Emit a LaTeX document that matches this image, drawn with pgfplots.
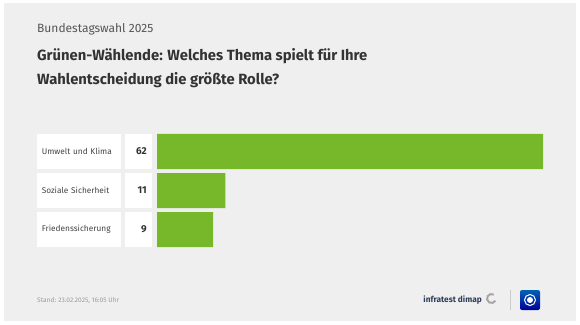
\documentclass[border=0pt]{standalone}
\usepackage{fontspec}
\setmainfont{Fira Sans}
\usepackage{pgfplots}
\pgfplotsset{compat=1.18}
\definecolor{bgc}{HTML}{EFEFEF}
\definecolor{barc}{HTML}{76B82A}
\definecolor{titc}{HTML}{333333}
\definecolor{subc}{HTML}{555555}
\definecolor{lblc}{HTML}{444444}
\definecolor{footc}{HTML}{9A9A9A}
\definecolor{infc}{HTML}{2E3F5A}
\begin{document}
\begin{tikzpicture}[x=1pt,y=1pt]
\fill[white] (0,0) rectangle (580,324);
\fill[bgc] (4,3) rectangle (576,321);
\node[anchor=base west, inner sep=0, font=\fontsize{12}{14}\selectfont, text=subc] at (37,291) {Bundestagswahl 2025};
\node[anchor=base west, inner sep=0, font=\fontsize{14.8}{18}\selectfont\bfseries, text=titc] at (37,263) {Grünen-Wählende: Welches Thema spielt für Ihre};
\node[anchor=base west, inner sep=0, font=\fontsize{14.8}{18}\selectfont\bfseries, text=titc] at (37,239) {Wahlentscheidung die größte Rolle?};
\begin{axis}[
  at={(157pt,75pt)}, anchor=south west,
  scale only axis, width=386pt, height=117pt,
  xmin=0, xmax=62, ymin=-0.5, ymax=2.5, y dir=reverse,
  axis line style={draw=none}, major tick style={draw=none},
  xtick=\empty, ytick={0,1,2},
  yticklabels={Umwelt und Klima, Soziale Sicherheit, Friedenssicherung},
  yticklabel style={anchor=east, xshift=-36pt, fill=white, inner sep=5pt,
    text width=74pt, align=left, minimum height=35pt, text=lblc,
    font=\fontsize{8.3}{10}\selectfont},
  clip=false,
]
\addplot[xbar, fill=barc, draw=none, bar width=35pt] coordinates {(62,0) (11,1) (9,2)};
\addplot[only marks, mark=none, nodes near coords, point meta=explicit symbolic,
  every node near coord/.style={anchor=east, xshift=-5pt, fill=white, inner sep=5pt,
    text width=17pt, align=right, minimum height=35pt, text=titc,
    font=\fontsize{10}{12}\selectfont\bfseries}]
  coordinates {(0,0) [62] (0,1) [11] (0,2) [9]};
\end{axis}
\node[anchor=base west, inner sep=0, font=\fontsize{6.6}{8}\selectfont, text=footc] at (37,22) {Stand: 23.02.2025, 16:05 Uhr};
\node[anchor=base east, inner sep=0, font=\fontsize{8.3}{10}\selectfont\bfseries, text=infc] at (482,22) {infratest dimap};
\draw[gray!70, line width=2pt] (491.5,25.5) ++(60:4.5) arc (60:330:4.5);
\draw[gray!40, line width=0.6pt] (510,14) -- (510,34);
\shade[top color=blue!45!cyan!70!black, bottom color=blue!60!black, rounded corners=2pt] (520,14) rectangle (540,34);
\draw[white, line width=1pt] (530,24) circle (5.5);
\fill[white] (530,24) circle (3);
\end{tikzpicture}
\end{document}
